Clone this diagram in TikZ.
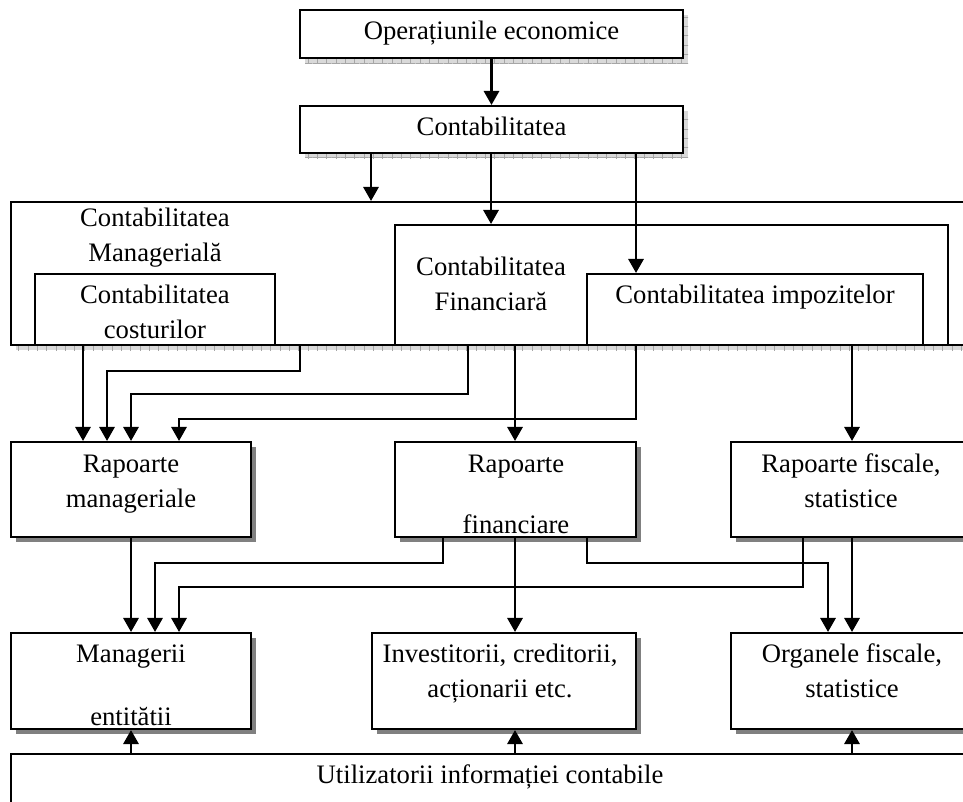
\documentclass[tikz,border=0pt]{standalone}
\usepackage{fontspec}
\setmainfont{Liberation Serif}
\usetikzlibrary{arrows.meta,fit,shadows,patterns.meta}
\newcommand{\mytab}[1]{\begin{tabular}[t]{@{}c@{}}#1\end{tabular}}
\begin{document}
\begin{tikzpicture}[x=0.75pt,y=-0.75pt,
  font=\fontsize{20pt}{26.25pt}\selectfont,
  box/.style={draw, line width=1.6pt, fill=white, inner sep=0pt},
  hatchsh/.style={general shadow={fill=gray!30, shadow xshift=3.75pt, shadow yshift=-3.75pt},
                  general shadow={pattern={Hatch[distance=7pt,line width=0.5pt]}, pattern color=gray!70, shadow xshift=3.75pt, shadow yshift=-3.75pt}},
  solidsh/.style={general shadow={fill=gray, shadow xshift=3.75pt, shadow yshift=-3.75pt}},
  txt/.style={anchor=base, inner sep=0pt},
  arr/.style={line width=1.6pt, -{Triangle[width=11.5pt,length=10.5pt]}}
]
\useasboundingbox (0,0) rectangle (963,801);
\clip (0,0) rectangle (963,801);
% column coordinates
\foreach \c in {83,107,131,155,179,300,371,443,468,491,515,587,636,803,828,852}
  {\coordinate (c\c) at (\c,0);}
% top boxes
\node[box, hatchsh, fit={(300,10)(683,58)}] (op) {};
\node[txt] (opt) at (491.5,39.5) {Operațiunile economice};
\node[box, hatchsh, fit={(300,106)(683,153)}] (cont) {};
\node[txt] (contt) at (491.5,135) {Contabilitatea};
% big box
\node[box, hatchsh, fit={(11,202)(990,345)}] (mg) {};
\node[txt] (mgt) at (155,226) {\mytab{Contabilitatea\\Managerială}};
\node[box, fit={(35,274)(275,345)}] (cost) {};
\node[txt] (costt) at (155,303) {\mytab{Contabilitatea\\costurilor}};
\node[box, fit={(395,225)(948,345)}] (fin) {};
\node[txt] (fint) at (491,275) {\mytab{Contabilitatea\\Financiară}};
\node[box, fit={(587,274)(923,345)}] (imp) {};
\node[txt] (impt) at (755,303) {Contabilitatea impozitelor};
% reports
\node[box, solidsh, fit={(11,442)(251,537)}] (rm) {};
\node[txt] (rmt) at (131,472) {\mytab{Rapoarte\\manageriale}};
\node[box, solidsh, fit={(395,442)(636,537)}] (rf) {};
\node[txt] (rft) at (516,472) {\mytab{Rapoarte\\[19.5pt]financiare}};
\node[box, solidsh, fit={(731,442)(966,537)}] (rs) {};
\node[txt] (rst) at (851,472) {\mytab{Rapoarte fiscale,\\statistice}};
% users
\node[box, solidsh, fit={(11,633)(251,729)}] (man) {};
\node[txt] (mant) at (131,662) {\mytab{Managerii\\[21pt]entitătii}};
\node[box, solidsh, fit={(372,633)(636,729)}] (inv) {};
\node[txt] (invt) at (500,662) {\mytab{Investitorii, creditorii,\\acționarii etc.}};
\node[box, solidsh, fit={(731,633)(966,729)}] (org) {};
\node[txt] (orgt) at (852,662) {\mytab{Organele fiscale,\\statistice}};
\node[box, fit={(11,754)(975,830)}] (util) {};
\node[txt] (utilt) at (490,783) {Utilizatorii informației contabile};
% connectors
\draw[arr] (op) -- (cont);
\draw[arr] (cont.south -| c371) -- (mg.north -| c371);
\draw[arr] (cont.south -| c491) -- (fin.north -| c491);
\draw[arr] (cont.south -| c636) -- (imp.north -| c636);
\draw[arr] (cost.south -| c83) -- (rm.north -| c83);
\draw[arr] (mg.south -| c300) -- ++(0,25) -| (rm.north -| c107);
\draw[arr] (fin.south -| c468) -- ++(0,48) -| (rm.north -| c131);
\draw[arr] (imp.south -| c636) -- ++(0,73) -| (rm.north -| c179);
\draw[arr] (fin.south -| c515) -- (rf.north -| c515);
\draw[arr] (imp.south -| c852) -- (rs.north -| c852);
\draw[arr] (rm.south -| c131) -- (man.north -| c131);
\draw[arr] (rf.south -| c443) -- ++(0,25) -| (man.north -| c155);
\draw[arr] (rs.south -| c803) -- ++(0,49) -| (man.north -| c179);
\draw[arr] (rf.south -| c515) -- (inv.north -| c515);
\draw[arr] (rf.south -| c587) -- ++(0,25) -| (org.north -| c828);
\draw[arr] (rs.south -| c852) -- (org.north -| c852);
\draw[arr] (util.north -| c131) -- (man.south -| c131);
\draw[arr] (util.north -| c515) -- (inv.south -| c515);
\draw[arr] (util.north -| c852) -- (org.south -| c852);
\end{tikzpicture}
\end{document}
